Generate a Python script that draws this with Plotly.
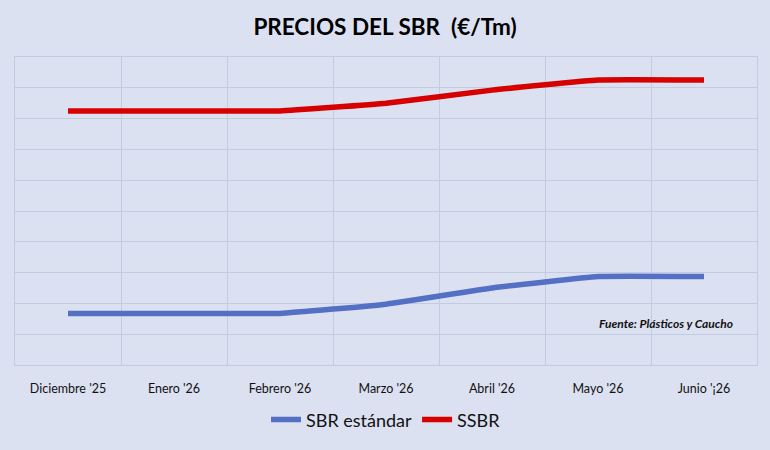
import plotly.graph_objects as go

# precios del SBR, eur/tm
meses = ["Diciembre '25", "Enero '26", "Febrero '26", "Marzo '26",
         "Abril '26", "Mayo '26", "Junio '¡26"]
sbr_estandar = [1335, 1335, 1335, 1395, 1500, 1575, 1575]
ssbr = [2650, 2650, 2650, 2700, 2785, 2850, 2850]

FONT = "Lato"
BG = "#DCE1F1"
GRID = "#C3CBE3"

fig = go.Figure()
fig.add_trace(go.Scatter(x=meses, y=sbr_estandar, name="SBR estándar", mode="lines",
                         line=dict(color="#5470C4", width=5.5, shape="spline", smoothing=0.3)))
fig.add_trace(go.Scatter(x=meses, y=ssbr, name="SSBR", mode="lines",
                         line=dict(color="#D60000", width=5.5, shape="spline", smoothing=0.3)))

fig.add_annotation(text="<b><i>Fuente: Plásticos y Caucho</i></b>", xref="paper", yref="paper",
                   x=0.97, y=0.136, xanchor="right", yanchor="middle", showarrow=False,
                   font=dict(family=FONT, size=12, color="#111111"))

fig.update_layout(
    width=770, height=450,
    margin=dict(l=15, r=13, t=57, b=77),
    paper_bgcolor=BG, plot_bgcolor=BG,
    font=dict(family=FONT, color="#111111"),
    title=dict(text="<b>PRECIOS DEL SBR  (€/Tm)</b>", x=0.5, xanchor="center", y=0.94, yanchor="middle",
               font=dict(family=FONT, size=22.5, color="#000000")),
    showlegend=True,
    legend=dict(orientation="h", x=0.5, xanchor="center", y=-0.178, yanchor="middle",
                font=dict(family=FONT, size=18, color="#111111"), bgcolor="rgba(0,0,0,0)"),
)
fig.update_xaxes(type="category", tickson="boundaries", showgrid=True, gridcolor=GRID, gridwidth=1,
                 showline=True, linecolor=GRID, mirror=True, ticks="", ticklabelstandoff=12,
                 tickfont=dict(family=FONT, size=12.5, color="#111111"), range=[-0.5, 6.5])
fig.update_yaxes(range=[1000, 3000], dtick=200, showticklabels=False, showgrid=True, gridcolor=GRID,
                 gridwidth=1, showline=True, linecolor=GRID, mirror=True, zeroline=False)

# sin margen del body para que el grafico llene la ventana
fig.write_html("out.html", config={"displayModeBar": False},
               post_script="document.body.style.margin='0';")
